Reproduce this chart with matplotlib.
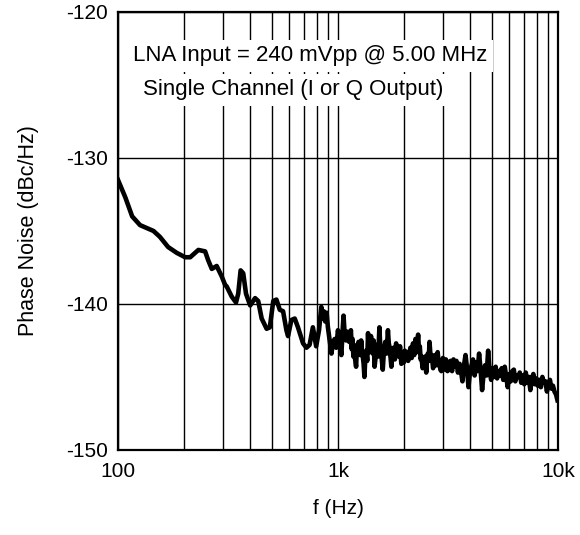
import matplotlib
matplotlib.use("Agg")
import matplotlib.pyplot as plt
from matplotlib.ticker import FixedLocator, FixedFormatter, NullFormatter

plt.rcParams['font.family'] = ['Liberation Sans', 'DejaVu Sans']
plt.rcParams['axes.unicode_minus'] = False

# frequency (Hz) and phase noise (dBc/Hz)
freq = [100, 108, 116, 126, 145, 155, 169, 185, 202, 213, 232, 249, 257, 267,
        281, 296, 307, 312, 329, 344, 352, 361, 371, 382, 399, 420, 434, 450,
        474, 490, 508, 525, 544, 563, 583, 593, 614, 636, 658, 694, 719, 743,
        769, 796, 820, 840, 850, 862, 875, 888, 900, 915, 934, 950, 966, 982,
        1000, 1018, 1036, 1050, 1060, 1074, 1088, 1105, 1125, 1145, 1155, 1165,
        1175, 1185, 1197, 1209, 1220, 1230, 1240, 1250, 1262, 1275, 1286, 1297,
        1308, 1319, 1332, 1345, 1358, 1370, 1380, 1390, 1400, 1413, 1426, 1440,
        1453, 1467, 1486, 1505, 1524, 1543, 1556, 1570, 1584, 1598, 1619, 1640,
        1663, 1687, 1702, 1718, 1733, 1749, 1770, 1790, 1814, 1838, 1864, 1890,
        1915, 1941, 1958, 1975, 1994, 2013, 2032, 2050, 2068, 2085, 2110, 2135,
        2164, 2193, 2222, 2250, 2282, 2314, 2335, 2355, 2376, 2396, 2425, 2455,
        2487, 2519, 2540, 2560, 2584, 2607, 2638, 2670, 2706, 2743, 2766, 2790,
        2815, 2839, 2866, 2893, 2920,
        2950, 3000, 3045, 3095, 3145, 3195, 3245, 3300, 3350, 3400, 3455, 3510,
        3570, 3625, 3680, 3740, 3800, 3860, 3920, 3985, 4050, 4110, 4180, 4245,
        4310, 4380, 4450, 4520, 4590, 4665, 4740, 4815, 4890, 4970, 5050, 5130,
        5210, 5290, 5375, 5460, 5550, 5640, 5730, 5820, 5910, 6005, 6100, 6200,
        6300, 6400, 6500, 6600, 6705, 6810, 6920, 7030, 7140, 7255, 7370, 7490,
        7610, 7730, 7850, 7975, 8100, 8230, 8360, 8495, 8630, 8770, 8910, 9050,
        9195, 9340, 9490, 9640, 9800, 9950]
noise = [-131.5, -132.7, -134.0, -134.6, -135.0, -135.4, -136.1, -136.5, -136.8,
         -136.8, -136.3, -136.4, -137.0, -137.6, -137.4, -138.1, -138.7, -138.8,
         -139.5, -139.9, -139.3, -137.7, -137.9, -139.3, -140.1, -139.6, -139.8,
         -141.0, -141.7, -141.6, -139.8, -139.7, -140.4, -140.5, -141.8, -142.2,
         -141.1, -141.0, -141.6, -142.7, -143.0, -142.8, -141.6, -142.9, -141.8,
         -140.2, -141.0, -140.5, -141.2, -140.6, -141.6, -142.4, -143.4, -142.6,
         -142.4, -143.0, -141.8, -142.6, -143.5, -141.8, -140.8, -142.2, -142.5,
         -141.9, -142.6, -141.8, -143.1, -142.4, -143.6, -143.0, -143.8, -144.3,
         -142.8, -143.4, -142.6, -142.7, -143.5, -142.5, -143.2, -143.6, -144.1,
         -145.0, -143.6, -143.2, -143.9, -142.0, -143.1, -142.6, -143.3, -142.2,
         -143.1, -143.4, -142.5, -144.3, -143.5, -142.8, -143.6, -141.6, -142.9,
         -143.2, -143.9, -144.5, -143.1, -142.6, -143.4, -141.8, -142.7, -143.0,
         -143.6, -144.3, -143.1, -143.0, -143.8, -142.7, -143.4, -143.6, -142.9,
         -144.1, -143.3, -143.4, -144.0, -143.2, -143.6, -143.8, -143.3, -143.9,
         -143.4, -143.0, -143.7, -142.7, -143.5, -142.4, -143.3, -142.1, -143.2,
         -142.9, -143.8, -143.6, -144.4, -144.2, -143.6, -144.7, -143.8, -143.4,
         -143.9, -142.6, -143.7, -143.5, -144.4, -144.1, -143.5, -143.6, -144.2,
         -143.3, -144.0, -143.9, -144.5,
         -144.6, -143.7, -144.5, -143.8, -144.6, -144.5, -143.9, -144.6, -143.8,
         -144.3, -143.9, -144.7, -144.1, -144.6, -145.3, -144.2, -143.5, -144.4,
         -145.7, -144.6, -144.2, -143.8, -144.9, -144.0, -144.6, -143.4, -144.5,
         -145.9, -144.8, -144.2, -144.9, -143.2, -144.6, -145.2, -144.4, -145.0,
         -144.3, -145.1, -144.6, -144.9, -144.4, -145.2, -144.3, -145.0, -145.7,
         -144.8, -145.3, -144.6, -144.5, -145.3, -144.9, -145.0, -144.7, -145.4,
         -144.9, -145.5, -144.7, -145.4, -145.0, -145.9, -145.1, -144.8, -145.5,
         -145.1, -145.6, -145.2, -145.7, -145.0, -145.4, -145.3, -146.0, -145.4,
         -145.2, -145.8, -145.6, -146.0, -146.2, -146.6]

xticks = [100, 1000, 10000]
xtick_labels = ['100', '1k', '10k']
yticks = [-150, -140, -130, -120]

fig = plt.figure(figsize=(5.8, 5.35), dpi=100)
ax = fig.add_axes([0.2034, 0.159, 0.7586, 0.8186])

ax.plot(freq, noise, color='black', lw=3.3, solid_joinstyle='round', zorder=3)

ax.set_xscale('log')
ax.set_xlim(100, 10000)
ax.set_ylim(-150, -120)
ax.xaxis.set_major_locator(FixedLocator(xticks))
ax.xaxis.set_major_formatter(FixedFormatter(xtick_labels))
ax.xaxis.set_minor_locator(FixedLocator([m * d for d in (100, 1000) for m in range(2, 10)]))
ax.xaxis.set_minor_formatter(NullFormatter())
ax.set_yticks(yticks)

ax.set_axisbelow(True)
ax.grid(True, which='both', axis='x', color='black', lw=1.0)
ax.grid(True, which='major', axis='y', color='black', lw=1.0)
ax.tick_params(which='both', length=0, labelsize=15)
ax.tick_params(axis='y', pad=7)
ax.tick_params(axis='x', pad=9)
for sp in ax.spines.values():
    sp.set_linewidth(1.6)

ax.set_xlabel('f (Hz)', fontsize=15)
ax.set_ylabel('Phase Noise (dBc/Hz)', fontsize=15.5)
ax.xaxis.set_label_coords(0.5, -0.112)
ax.yaxis.set_label_coords(-0.18, 0.5)

box = dict(facecolor='white', edgecolor='none', pad=4)
ax.text(0.034, 0.9, 'LNA Input = 240 mVpp @ 5.00 MHz', transform=ax.transAxes,
        fontsize=16, ha='left', va='center', bbox=box, zorder=4)
ax.text(0.057, 0.822, 'Single Channel (I or Q Output)', transform=ax.transAxes,
        fontsize=16, ha='left', va='center', bbox=box, zorder=4)

fig.savefig('out.png', dpi=100)
